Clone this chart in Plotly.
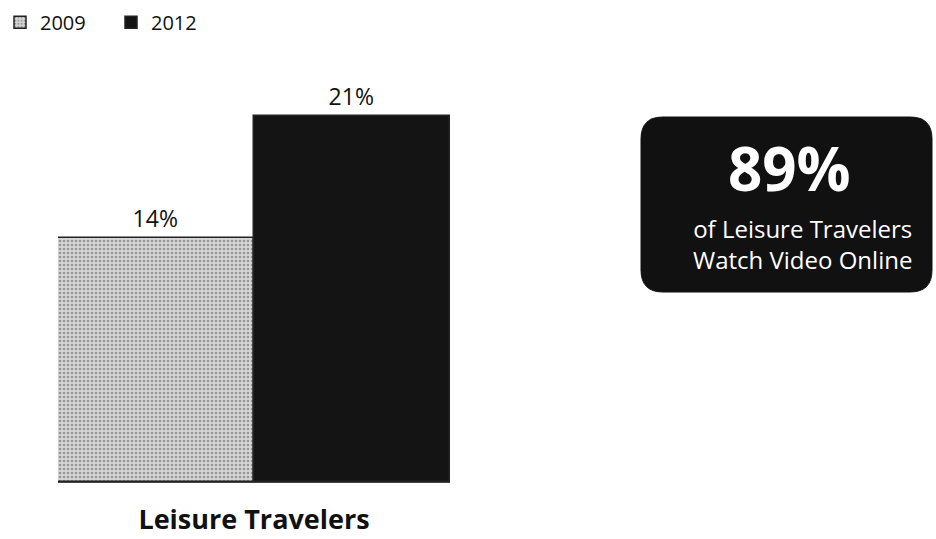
import plotly.graph_objects as go

categories = ["Leisure Travelers"]
years = ["2009", "2012"]
values_2009 = [14]
values_2012 = [21]
callout_value = "89%"
callout_lines = ["of Leisure Travelers", "Watch Video Online"]

W, H = 936, 539
ML, MR, MT, MB = 0, 0, 63, 57
plot_h = H - MT - MB

fig = go.Figure()
fig.add_trace(go.Bar(
    name=years[0], x=categories, y=values_2009,
    text=[f"{v}%" for v in values_2009], textposition="outside",
    textfont=dict(size=23, color="#111", family="Open Sans"),
    marker=dict(color="#cfcfcf", line=dict(color="#222", width=1.5),
                pattern=dict(shape=".", fgcolor="#555", bgcolor="#d6d6d6", size=4, solidity=0.35)),
    cliponaxis=False,
))
fig.add_trace(go.Bar(
    name=years[1], x=categories, y=values_2012,
    text=[f"{v}%" for v in values_2012], textposition="outside",
    textfont=dict(size=23, color="#111", family="Open Sans"),
    marker=dict(color="#141414", line=dict(color="#222", width=1.5)),
    cliponaxis=False,
))

def px2paper(px, py):
    return px / W, (H - MB - py) / plot_h

# rounded callout box
x0, x1, y0, y1, r = 641, 932, 117, 292, 22
def P(px, py):
    a, b = px2paper(px, py)
    return f"{a:.5f},{b:.5f}"
path = (f"M {P(x0+r, y0)} L {P(x1-r, y0)} Q {P(x1, y0)} {P(x1, y0+r)} "
        f"L {P(x1, y1-r)} Q {P(x1, y1)} {P(x1-r, y1)} "
        f"L {P(x0+r, y1)} Q {P(x0, y1)} {P(x0, y1-r)} "
        f"L {P(x0, y0+r)} Q {P(x0, y0)} {P(x0+r, y0)} Z")
fig.add_shape(type="path", path=path, xref="paper", yref="paper",
              fillcolor="#111111", line=dict(color="#111111", width=1), layer="below")

ax, ay = px2paper(789, 168)
fig.add_annotation(x=ax, y=ay, xref="paper", yref="paper", text=f"<b>{callout_value}</b>",
                   xanchor="center", yanchor="middle",
                   showarrow=False, font=dict(size=60, color="white", family="Open Sans"))
ax, ay = px2paper(802, 244)
fig.add_annotation(x=ax, y=ay, xref="paper", yref="paper", text="<br>".join(callout_lines),
                   xanchor="center", yanchor="middle", align="center",
                   showarrow=False, font=dict(size=24, color="white", family="Open Sans"))

fig.update_layout(
    width=W, height=H,
    margin=dict(l=ML, r=MR, t=MT, b=MB),
    paper_bgcolor="white", plot_bgcolor="white",
    barmode="group", bargap=0, bargroupgap=0,
    showlegend=True,
    legend=dict(orientation="h", xref="container", yref="container", x=-0.012, y=0.995,
                xanchor="left", yanchor="top", font=dict(size=20, color="#111", family="Open Sans"),
                itemwidth=30, entrywidth=66, tracegroupgap=0),
    xaxis=dict(domain=[58 / W, 450 / W], showgrid=False, showline=True, linecolor="#444",
               linewidth=1, ticks="", ticklabelstandoff=14,
               tickfont=dict(size=27, color="#111", family="Open Sans"),
               tickvals=categories, ticktext=[f"<b>{c}</b>" for c in categories]),
    yaxis=dict(range=[0, plot_h / 17.45], visible=False),
    font=dict(family="Open Sans"),
)

fig.write_html("out.html")
